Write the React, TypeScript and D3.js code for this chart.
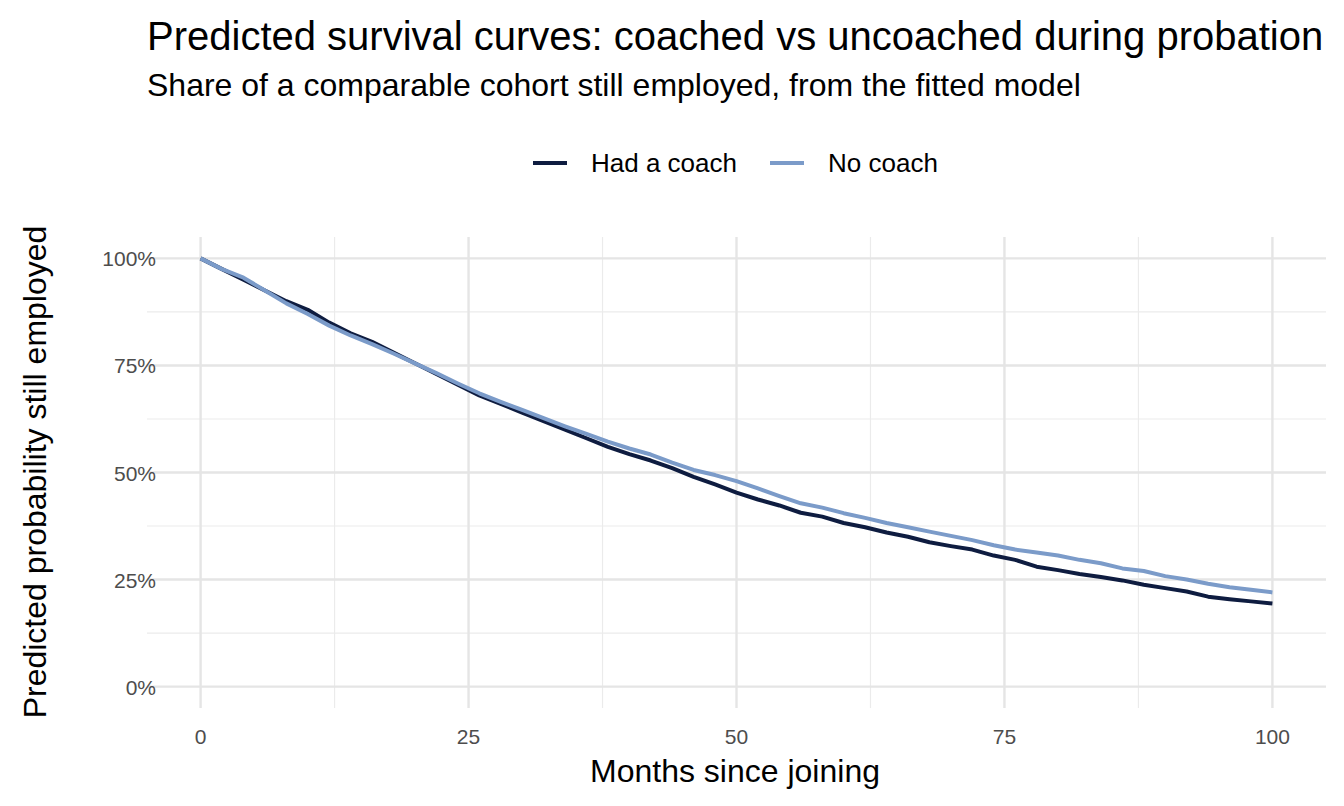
import * as d3 from 'd3';

const months = d3.range(0, 101, 2);
const coached = [100, 97.5, 95, 92.5, 90, 88, 85, 82.5, 80.5, 78, 75.5, 73, 70.5, 68, 66, 64, 62, 60, 58, 56, 54.3, 52.8, 51, 49, 47.2, 45.3, 43.7, 42.3, 40.6, 39.7, 38.2, 37.2, 36, 35, 33.7, 32.8, 32, 30.6, 29.6, 28, 27.2, 26.3, 25.6, 24.8, 23.8, 23, 22.2, 21, 20.4, 19.9, 19.4];
const uncoached = [100, 97.5, 95.5, 92.5, 89.5, 87, 84.3, 82, 80, 77.8, 75.5, 73.2, 70.8, 68.5, 66.5, 64.6, 62.7, 60.8, 59, 57.2, 55.6, 54.2, 52.3, 50.6, 49.4, 48, 46.3, 44.5, 42.8, 41.8, 40.5, 39.4, 38.2, 37.2, 36.2, 35.2, 34.2, 33, 32, 31.3, 30.6, 29.6, 28.8, 27.6, 27, 25.8, 25, 24, 23.2, 22.6, 22];
const xTicks = [0, 25, 50, 75, 100];
const yTicks = [0, 0.25, 0.5, 0.75, 1];
const series = [
  { name: 'Had a coach', color: '#0e1c40', values: coached },
  { name: 'No coach', color: '#7b9bc9', values: uncoached },
];

const W = 1344, H = 806;
const font = '"Liberation Sans", Arial, sans-serif';

export default function App() {
  const x = d3.scaleLinear().domain([-5, 105]).range([147, 1326]);
  const y = d3.scaleLinear().domain([-0.05, 1.05]).range([708, 237]);
  const line = d3.line<[number, number]>().x(d => x(d[0])).y(d => y(d[1] / 100));
  const xMinor = xTicks.slice(0, -1).map(t => t + 12.5);
  const yMinor = yTicks.slice(0, -1).map(t => t + 0.125);

  return (
    <svg width={W} height={H} style={{ position: 'absolute', left: 0, top: 0, background: '#fff' }} fontFamily={font}>
      <text x={147} y={50} fontSize={40} fill="#000">Predicted survival curves: coached vs uncoached during probation</text>
      <text x={147} y={96} fontSize={32} fill="#000">Share of a comparable cohort still employed, from the fitted model</text>

      {series.map((s, i) => {
        const lx = i === 0 ? 533 : 770;
        return (
          <g key={s.name}>
            <line x1={lx} x2={lx + 34} y1={163} y2={163} stroke={s.color} strokeWidth={4} />
            <text x={lx + 58} y={172} fontSize={26} fill="#000">{s.name}</text>
          </g>
        );
      })}

      {xMinor.map(t => <line key={'xm' + t} x1={x(t)} x2={x(t)} y1={237} y2={708} stroke="#ebebeb" strokeWidth={1.2} />)}
      {yMinor.map(t => <line key={'ym' + t} x1={147} x2={1326} y1={y(t)} y2={y(t)} stroke="#ebebeb" strokeWidth={1.2} />)}
      {xTicks.map(t => <line key={'x' + t} x1={x(t)} x2={x(t)} y1={237} y2={708} stroke="#e5e5e5" strokeWidth={2.4} />)}
      {yTicks.map(t => <line key={'y' + t} x1={147} x2={1326} y1={y(t)} y2={y(t)} stroke="#e5e5e5" strokeWidth={2.4} />)}

      {series.map(s => (
        <path key={s.name} d={line(months.map((m, i) => [m, s.values[i]]) as [number, number][]) || ''}
          fill="none" stroke={s.color} strokeWidth={4} strokeLinejoin="round" />
      ))}

      {xTicks.map(t => <text key={'xl' + t} x={x(t)} y={744} fontSize={21} fill="#4d4d4d" textAnchor="middle">{t}</text>)}
      {yTicks.map(t => <text key={'yl' + t} x={156} y={y(t) + 8} fontSize={21} fill="#4d4d4d" textAnchor="end">{d3.format('.0%')(t)}</text>)}

      <text x={735} y={782} fontSize={32} fill="#000" textAnchor="middle">Months since joining</text>
      <text transform={`translate(46,472) rotate(-90)`} fontSize={32} fill="#000" textAnchor="middle">Predicted probability still employed</text>
    </svg>
  );
}
